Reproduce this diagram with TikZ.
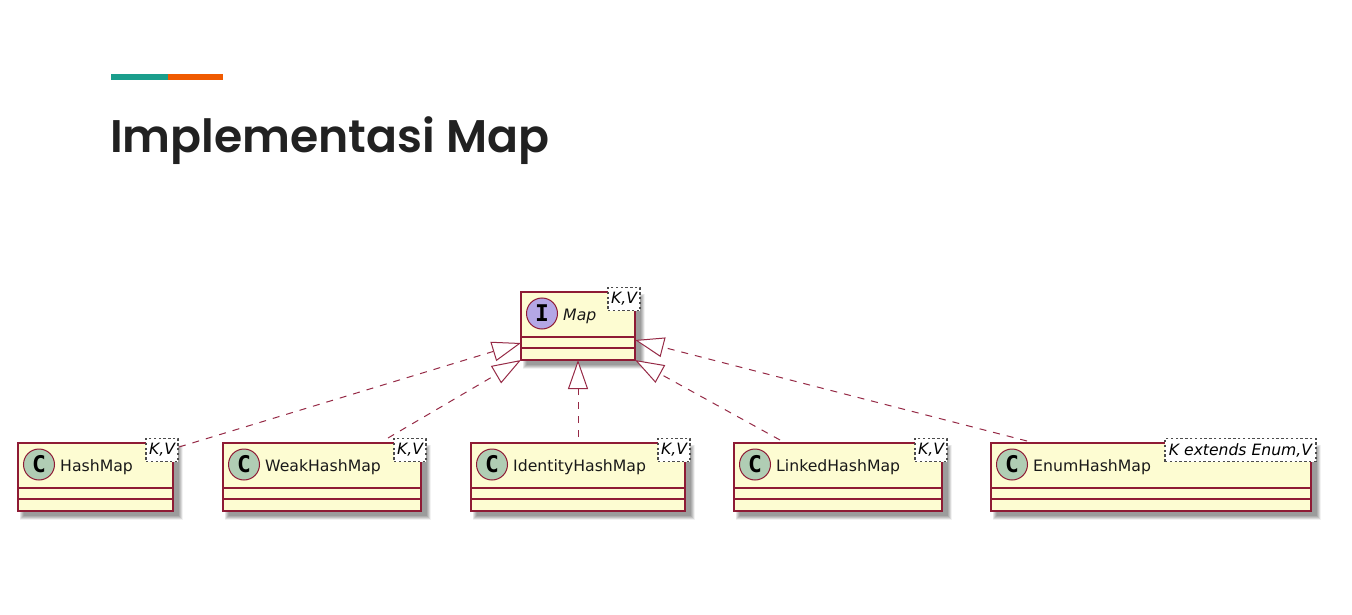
\documentclass[tikz,border=0pt]{standalone}
\usepackage{fontspec}
\setmainfont{DejaVu Sans}
\newfontfamily\titlefont{Poppins SemiBold}
\newfontfamily\glyphfont{DejaVu Sans Mono}
\usetikzlibrary{arrows.meta}
\definecolor{umlline}{HTML}{8E1B35}
\definecolor{umlarrow}{HTML}{962A46}
\definecolor{umlfill}{HTML}{FDFCD2}
\definecolor{classdot}{HTML}{B0CDB4}
\definecolor{ifacedot}{HTML}{B4A7E5}
\definecolor{accentteal}{HTML}{1A9E8C}
\definecolor{accentorange}{HTML}{F05A00}
\definecolor{titleink}{HTML}{212121}
\tikzset{
  umlbox/.style={draw=umlline,fill=umlfill,line width=1.6pt,anchor=north west,inner sep=0pt,outer sep=0pt,minimum height=68pt},
  umlrule/.style={draw=umlline,line width=1.6pt},
  umldot/.style={circle,draw=umlline,line width=1pt,minimum size=31pt,inner sep=0pt,font=\glyphfont\bfseries\fontsize{23}{23}\selectfont},
  umllabel/.style={anchor=west,inner sep=0pt,text=black!90,font=\fontsize{15.7}{17}\selectfont},
  umltpl/.style={draw=black!70,dash pattern=on 2.4pt off 2.4pt,line width=1.2pt,fill=white,anchor=north east,inner sep=0pt,outer sep=0pt,minimum height=23pt,font=\itshape\fontsize{15.6}{17}\selectfont},
  realize/.style={draw=umlarrow,line width=1pt,dash pattern=on 7pt off 7pt,
    -{Triangle[open,length=29pt,width=20pt,fill=white,line width=1pt]}},
}
\newcommand{\umlclass}[9]{%
  \foreach \g in {9,8,7,6,5,4,3,2,1}{
    \fill[black,opacity=.05] (#2+6-\g*.5,#4+6-\g*.5) rectangle (#3+5+\g*.5,#4+68+4+\g*.5);
  }
  \node[umlbox,minimum width=#3pt-#2pt] (#1) at (#2,#4) {};
  \draw[umlrule] ([yshift=-45.2pt]#1.north west) -- ([yshift=-45.2pt]#1.north east);
  \draw[umlrule] ([yshift=-55.8pt]#1.north west) -- ([yshift=-55.8pt]#1.north east);
  \node[umldot,fill=#6] (#1dot) at (#2+21,#4+21.5) {#5};
  \node[umllabel,#7] (#1label) at (#2+42,#4+24.5) {#8};
  \node[umltpl,minimum width=\tplw pt] (#1tpl) at (#3+5,#4-4.5) {#9};
}
\begin{document}
\begin{tikzpicture}[x=1pt,y=-1pt]
\useasboundingbox (0,0) rectangle (1352,615);
\fill[white] (0,0) rectangle (1352,615);
\node[fill=accentteal,minimum width=57pt,minimum height=6.5pt,inner sep=0pt,outer sep=0pt,anchor=north west] (barA) at (111,74) {};
\node[fill=accentorange,minimum width=55pt,minimum height=6.5pt,inner sep=0pt,outer sep=0pt,anchor=north west] (barB) at (168,74) {};
\node[anchor=west,inner sep=0pt,text=titleink,font=\titlefont\fontsize{45.7}{50}\selectfont] (title) at (110,141) {Implementasi Map};

\def\tplw{32}
\umlclass{map}{521}{635}{292}{I}{ifacedot}{font=\itshape\fontsize{15.7}{17}\selectfont}{Map}{K,V}
\umlclass{hash}{18}{173}{443}{C}{classdot}{}{HashMap}{K,V}
\umlclass{weak}{223}{421}{443}{C}{classdot}{}{WeakHashMap}{K,V}
\umlclass{identity}{471}{685}{443}{C}{classdot}{}{IdentityHashMap}{K,V}
\umlclass{linked}{734}{942}{443}{C}{classdot}{}{LinkedHashMap}{K,V}
\def\tplw{151}
\umlclass{enum}{991}{1311}{443}{C}{classdot}{}{EnumHashMap}{K extends Enum,V}

\coordinate (mapL) at (521,343);
\coordinate (mapR) at (635,340);
\coordinate (hashP) at (179,447);
\coordinate (weakP) at (388,438);
\coordinate (identP) at (578,437);
\coordinate (linkP) at (780,440);
\coordinate (enumP) at (1027,441);
\draw[realize] (hashP) -- (mapL);
\draw[realize] (weakP) -- (map.south west);
\draw[realize] (identP) -- (map.south);
\draw[realize] (linkP) -- (map.south east);
\draw[realize] (enumP) -- (mapR);
\end{tikzpicture}
\end{document}
